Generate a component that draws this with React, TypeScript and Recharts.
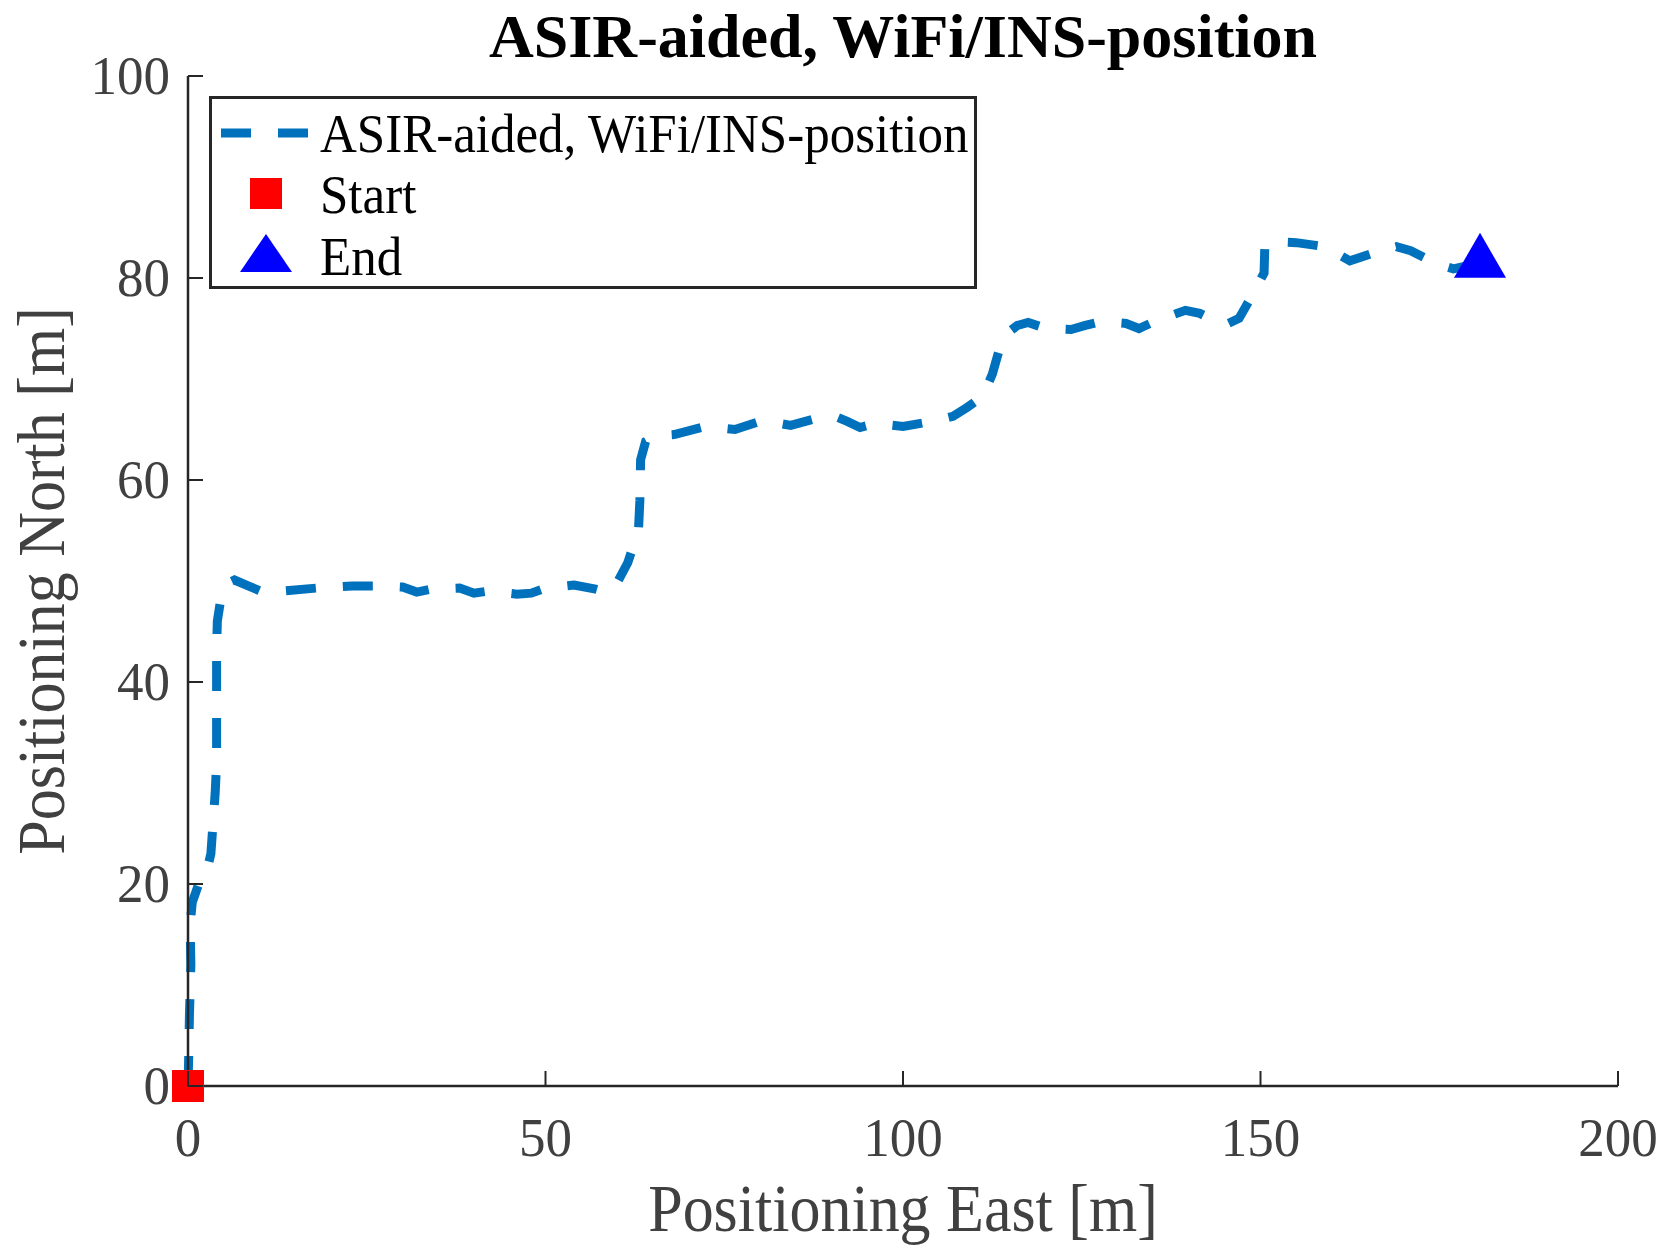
import React from "react";
import { ComposedChart, Line, Scatter, XAxis, YAxis, Legend } from "recharts";

// track (metres)
const eastM = [
  0, 0.1, 0.2, 0.4, 0.3, 0.6, 1.5, 2.8, 3.2, 3.5, 3.8, 4.0, 4.0, 4.0, 4.1, 4.6, 5.6, 6.5, 8.5, 10.5,
  13, 18, 23, 27, 30, 32, 34, 38, 40, 42, 46, 48, 50, 54, 57, 58.5, 60, 61.5, 63, 63.2,
  63.3, 64.0, 65.5, 68, 72.4, 76.5, 80.4, 84.3, 88.4, 90.5, 92.2, 94, 96.1, 100, 104, 107, 109, 111.2, 112.5, 113.5,
  114.5, 116, 117.5, 120, 123.5, 125.5, 127.7, 131.2, 133, 135.5, 139.5, 141.5, 143.2, 145.5, 147, 149, 150.5, 150.6, 151.5, 155,
  159, 162.5, 166.7, 169, 171, 174.7, 177, 180.7,
];
const northM = [
  0, 3, 7, 12, 16, 18.2, 20, 21.8, 23, 26, 29, 32, 38, 43, 46, 48.3, 49.8, 50.1, 49.5, 48.9,
  49.0, 49.3, 49.5, 49.5, 49.4, 48.9, 49.2, 49.3, 48.8, 49.0, 48.7, 48.8, 49.3, 49.6, 49.2, 48.9, 49.8, 51.8, 55, 58,
  62, 63.8, 64.4, 64.5, 65.3, 65.0, 65.9, 65.4, 66.2, 66.3, 65.8, 65.2, 65.6, 65.3, 65.8, 66.3, 67.2, 68.3, 70.5, 73,
  74.5, 75.3, 75.6, 75.0, 74.9, 75.3, 75.7, 75.5, 75.0, 75.8, 76.8, 76.5, 75.9, 75.5, 76, 78.5, 80.5, 83, 83.6, 83.5,
  83.1, 81.7, 82.7, 83.1, 82.7, 81.4, 80.9, 81.5,
];
const startPoint = [{ x: 0, y: 0 }];
const endPoint = [{ x: 180.7, y: 81.5 }];
const xTicks = [0, 50, 100, 150, 200];
const yTicks = [0, 20, 40, 60, 80, 100];

const seriesName = "ASIR-aided, WiFi/INS-position";
const track = eastM.map((x, i) => ({ x, y: northM[i] }));

const W = 1666;
const H = 1250;
const FONT = "'Liberation Serif', 'Times New Roman', serif";
const AXIS = "#262626";
const TXT = "#404040";
const BLUE = "#0072BD";
const TL = 15;
const SY = 1.08;

function BottomTick(props: any) {
  const { x, y, payload } = props;
  return (
    <g>
      <line x1={x} y1={y} x2={x} y2={y - TL} stroke={AXIS} strokeWidth={2} />
      <text transform={`translate(${x},${y + 70}) scale(1,1.05)`} textAnchor="middle" fontSize={53} fill={TXT} fontFamily={FONT}>
        {payload.value}
      </text>
    </g>
  );
}

function TopTick(props: any) {
  const { x, y } = props;
  return <line x1={x} y1={y} x2={x} y2={y + TL} stroke={AXIS} strokeWidth={2} />;
}

function LeftTick(props: any) {
  const { x, y, payload } = props;
  return (
    <g>
      <line x1={x} y1={y} x2={x + TL} y2={y} stroke={AXIS} strokeWidth={2} />
      <text transform={`translate(${x - 18},${y + 18}) scale(1,1.05)`} textAnchor="end" fontSize={53} fill={TXT} fontFamily={FONT}>
        {payload.value}
      </text>
    </g>
  );
}

function RightTick(props: any) {
  const { x, y } = props;
  return <line x1={x} y1={y} x2={x - TL} y2={y} stroke={AXIS} strokeWidth={2} />;
}

function Square(props: any) {
  const { cx, cy } = props;
  return <rect x={cx - 16} y={cy - 16} width={32} height={32} fill="#FF0000" />;
}

function Triangle(props: any) {
  const { cx, cy } = props;
  return <polygon points={`${cx},${cy - 30} ${cx - 26},${cy + 15} ${cx + 26},${cy + 15}`} fill="#0000FF" />;
}

function LegendBox() {
  return (
    <svg width={768} height={193} style={{ display: "block" }}>
      <rect x={1.5} y={1.5} width={765} height={190} fill="#fff" stroke={AXIS} strokeWidth={3} />
      <line x1={12} y1={37} x2={99} y2={37} stroke={BLUE} strokeWidth={9} strokeDasharray="30 27" />
      <rect x={41} y={82} width={32} height={31} fill="#FF0000" />
      <polygon points="57,138 31,176 83,176" fill="#0000FF" />
      {[
        { t: seriesName, y: 56 },
        { t: "Start", y: 117 },
        { t: "End", y: 179 },
      ].map((r) => (
        <text key={r.t} transform={`translate(111,${r.y}) scale(1,${SY})`} fontSize={51} fill="#000" fontFamily={FONT}>
          {r.t}
        </text>
      ))}
    </svg>
  );
}

export default function App() {
  return (
    <div style={{ position: "absolute", left: 0, top: 0, width: W, height: H, background: "#fff" }}>
      <ComposedChart width={W} height={H} margin={{ top: 76, right: 48, bottom: 0, left: 0 }}>
        <XAxis
          xAxisId="b"
          dataKey="x"
          type="number"
          domain={[0, 200]}
          ticks={xTicks}
          interval={0}
          orientation="bottom"
          height={164}
          tickSize={0}
          tickMargin={0}
          tickLine={false}
          axisLine={{ stroke: AXIS, strokeWidth: 2.5 }}
          tick={<BottomTick />}
        />
        <XAxis
          xAxisId="t"
          type="number"
          domain={[0, 200]}
          ticks={xTicks}
          interval={0}
          allowDataOverflow
          orientation="top"
          height={0}
          tickSize={0}
          tickMargin={0}
          tickLine={false}
          axisLine={{ stroke: AXIS, strokeWidth: 2.5 }}
          tick={<TopTick />}
        />
        <YAxis
          yAxisId="l"
          dataKey="y"
          type="number"
          domain={[0, 100]}
          ticks={yTicks}
          interval={0}
          orientation="left"
          width={188}
          tickSize={0}
          tickMargin={0}
          tickLine={false}
          axisLine={{ stroke: AXIS, strokeWidth: 2.5 }}
          tick={<LeftTick />}
        />
        <YAxis
          yAxisId="r"
          type="number"
          domain={[0, 100]}
          ticks={yTicks}
          interval={0}
          allowDataOverflow
          orientation="right"
          width={0}
          tickSize={0}
          tickMargin={0}
          tickLine={false}
          axisLine={{ stroke: AXIS, strokeWidth: 2.5 }}
          tick={<RightTick />}
        />
        <Line
          xAxisId="b"
          yAxisId="l"
          data={track}
          dataKey="y"
          name={seriesName}
          type="linear"
          stroke={BLUE}
          strokeWidth={9}
          strokeDasharray="30 27"
          dot={false}
          activeDot={false}
          isAnimationActive={false}
        />
        <Scatter xAxisId="b" yAxisId="l" data={startPoint} dataKey="y" name="Start" shape={<Square />} isAnimationActive={false} />
        <Scatter xAxisId="b" yAxisId="l" data={endPoint} dataKey="y" name="End" shape={<Triangle />} isAnimationActive={false} />
        <Legend
          layout="vertical"
          align="center"
          verticalAlign="middle"
          content={() => <LegendBox />}
          wrapperStyle={{ left: 209, top: 96, width: 768, height: 193 }}
        />
        <text x={903} y={57} textAnchor="middle" fontSize={62} fontWeight="bold" fill="#000" fontFamily={FONT}>
          {seriesName}
        </text>
        <text transform={`translate(903,1231) scale(1,${SY})`} textAnchor="middle" fontSize={62} fill={TXT} fontFamily={FONT}>
          Positioning East [m]
        </text>
        <text transform={`translate(64,581) rotate(-90) scale(1,${SY})`} textAnchor="middle" fontSize={62} fill={TXT} fontFamily={FONT}>
          Positioning North [m]
        </text>
      </ComposedChart>
    </div>
  );
}
